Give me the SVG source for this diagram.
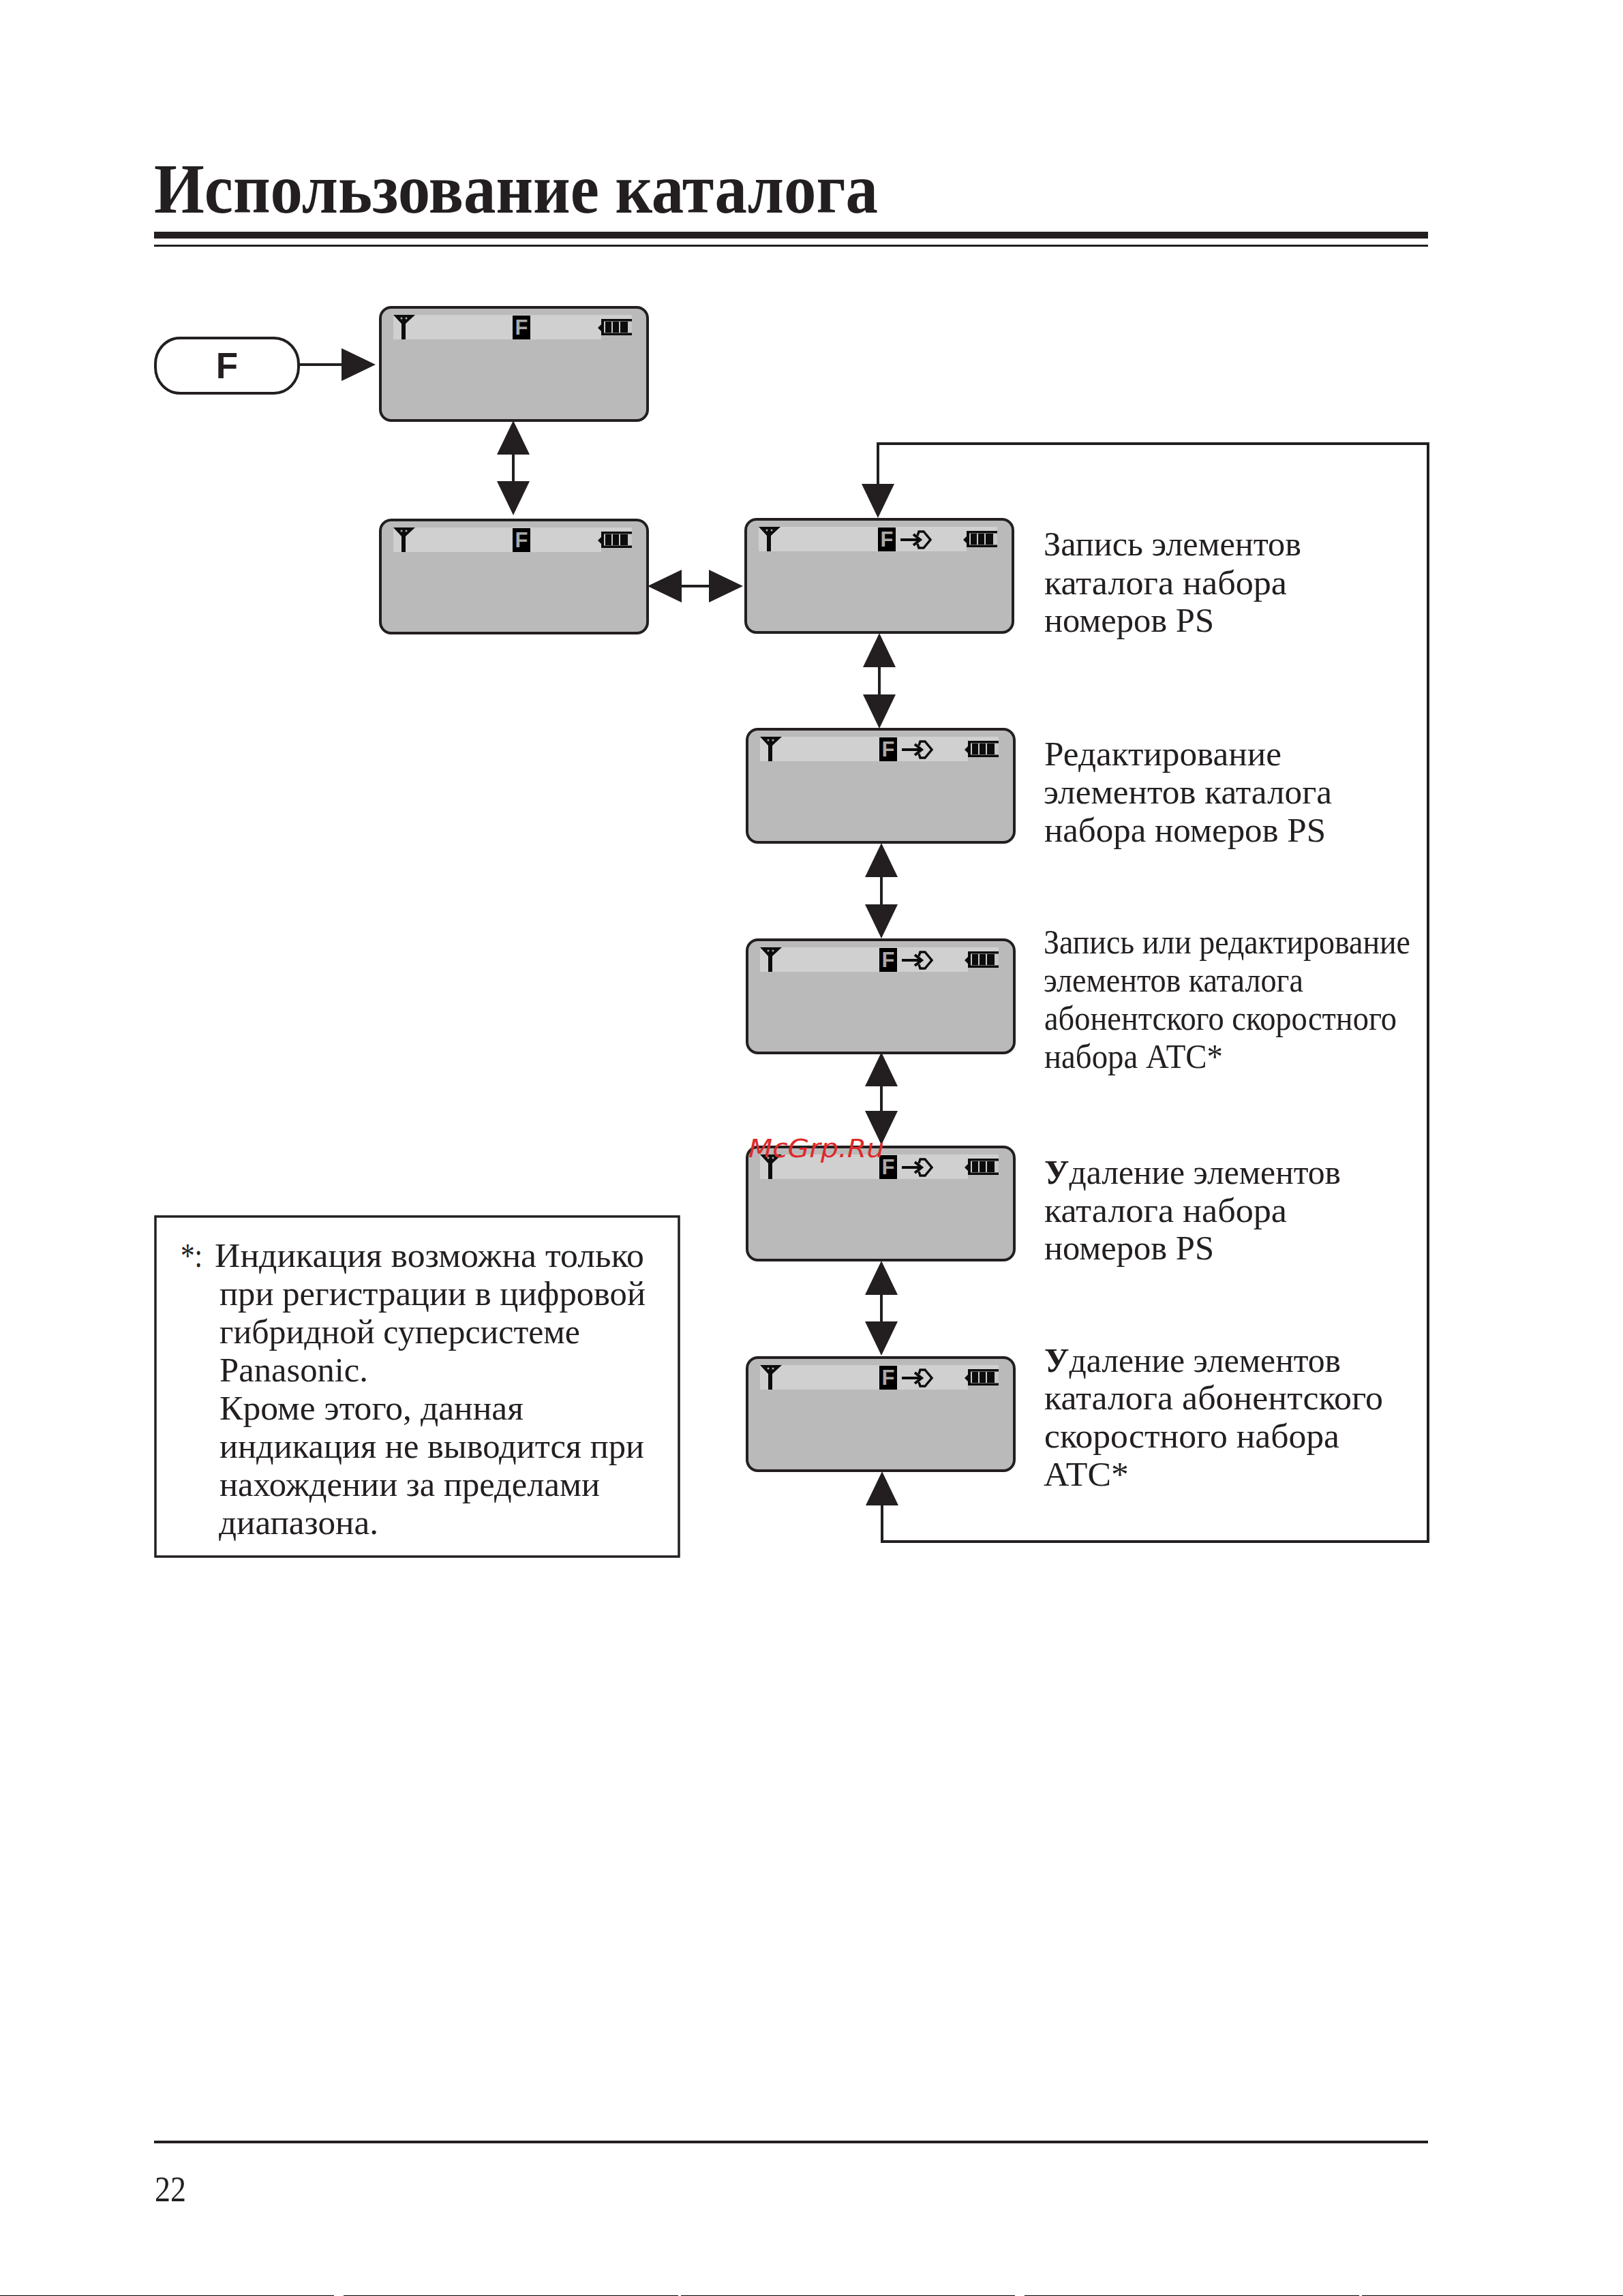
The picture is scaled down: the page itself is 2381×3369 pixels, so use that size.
<svg xmlns="http://www.w3.org/2000/svg" xmlns:xlink="http://www.w3.org/1999/xlink" width="2381" height="3369" viewBox="0 0 2381 3369">
<style>
text{font-family:"Liberation Serif","Times New Roman",serif;fill:#231f20}
.t{font-size:51px}
.title{font-size:104px;font-weight:bold}
.pn{font-size:52px}
.key{font-family:"Liberation Sans",Arial,sans-serif;font-weight:bold;font-size:53px}
.ff{font-family:"Liberation Sans",Arial,sans-serif;font-weight:bold;font-size:31px;fill:#a9a9a9}
.wm{font-family:"DejaVu Sans",sans-serif;font-style:oblique;font-size:38px;fill:#dd2a2a}
.scr{fill:#bababa;stroke:#231f20;stroke-width:4}
.band{fill:#d0d0d0}
.conn{fill:none;stroke:#231f20;stroke-width:4;marker-start:url(#ah);marker-end:url(#ah)}
.one{marker-start:none}
.rule{fill:#231f20}
</style>
<defs>
<marker id="ah" markerUnits="userSpaceOnUse" markerWidth="52" markerHeight="50" viewBox="0 -25 52 50" refX="0" refY="0" orient="auto-start-reverse"><path d="M0,-24L50,0L0,24Z" fill="#231f20"/></marker>
<g id="base">
<rect class="scr" x="2" y="2" width="392" height="166" rx="16"/>
<rect class="band" x="21" y="13" width="350" height="36"/>
<rect x="326" y="43" width="45" height="6" fill="#bababa"/>
<path d="M21,13H53L39,26V49H33V26Z" fill="#0c0c0c"/>
<circle cx="33" cy="18" r="1.5" fill="#b0b0b0"/><circle cx="40" cy="18" r="1.5" fill="#b0b0b0"/>
<rect x="196" y="14" width="26" height="35" fill="#000"/>
<text class="ff" x="209" y="42" text-anchor="middle">F</text>
<path d="M321,32L326,27V19H371V43H326V37Z" fill="#0c0c0c"/>
<rect x="330" y="22.500" width="41" height="17" fill="#c8c8c8"/>
<rect x="332" y="23" width="9" height="16" fill="#0c0c0c"/><rect x="343" y="23" width="9" height="16" fill="#0c0c0c"/><rect x="354" y="23" width="11" height="16" fill="#0c0c0c"/>
</g>
<g id="door">
<path d="M229,32H256" fill="none" stroke="#0c0c0c" stroke-width="4"/>
<path d="M248,24L258,32L248,40" fill="none" stroke="#0c0c0c" stroke-width="4"/>
<path d="M254,26L256,20H263L273,32L263,44H256L254,38" fill="none" stroke="#0c0c0c" stroke-width="3.5"/>
</g>
</defs>
<g id="page">
<text class="title" x="226" y="312" textLength="1062" lengthAdjust="spacingAndGlyphs">Использование каталога</text>
<rect class="rule" x="226" y="340" width="1869" height="10"/>
<rect class="rule" x="226" y="359" width="1869" height="3"/>
<rect class="rule" x="226" y="3141" width="1869" height="4"/>
<text class="pn" x="227" y="3230" textLength="46" lengthAdjust="spacingAndGlyphs">22</text>
<path d="M0,3368.5H2381" stroke="#000" stroke-width="1" stroke-dasharray="490 14 491 4"/>
</g>
<g id="connectors">
<path class="conn one" d="M439,535H501"/>
<path class="conn" d="M753,667V706"/>
<path class="conn" d="M1000,860H1040"/>
<path class="conn" d="M1290,979V1019"/>
<path class="conn" d="M1293,1287V1327"/>
<path class="conn" d="M1293,1594V1630"/>
<path class="conn" d="M1293,1900V1939"/>
<path class="conn" d="M1294,2209V2262H2095V651H1288V710"/>
</g>
<g id="key-f">
<rect x="228" y="496" width="210" height="81" rx="36" ry="38" fill="#fff" stroke="#231f20" stroke-width="4"/>
<text class="key" x="333" y="555" text-anchor="middle">F</text>
</g>
<g id="screen-1" transform="translate(556,449)"><use href="#base"/></g>
<g id="screen-2" transform="translate(556,761)"><use href="#base"/></g>
<g id="screen-3" transform="translate(1092,760)"><use href="#base"/><use href="#door"/></g>
<g id="screen-4" transform="translate(1094,1068)"><use href="#base"/><use href="#door"/></g>
<g id="screen-5" transform="translate(1094,1377)"><use href="#base"/><use href="#door"/></g>
<g id="screen-6" transform="translate(1094,1681)"><use href="#base"/><use href="#door"/></g>
<g id="screen-7" transform="translate(1094,1990)"><use href="#base"/><use href="#door"/></g>
<g id="label-3">
<text class="t" x="1531" y="815" textLength="378" lengthAdjust="spacingAndGlyphs">Запись элементов</text>
<text class="t" x="1532" y="872" textLength="356" lengthAdjust="spacingAndGlyphs">каталога набора</text>
<text class="t" x="1532" y="927" textLength="249" lengthAdjust="spacingAndGlyphs">номеров PS</text>
</g>
<g id="label-4">
<text class="t" x="1532" y="1123" textLength="348" lengthAdjust="spacingAndGlyphs">Редактирование</text>
<text class="t" x="1531" y="1179" textLength="423" lengthAdjust="spacingAndGlyphs">элементов каталога</text>
<text class="t" x="1532" y="1235" textLength="413" lengthAdjust="spacingAndGlyphs">набора номеров PS</text>
</g>
<g id="label-5">
<text class="t" x="1531" y="1399" textLength="538" lengthAdjust="spacingAndGlyphs">Запись или редактирование</text>
<text class="t" x="1531" y="1455" textLength="381" lengthAdjust="spacingAndGlyphs">элементов каталога</text>
<text class="t" x="1532" y="1511" textLength="517" lengthAdjust="spacingAndGlyphs">абонентского скоростного</text>
<text class="t" x="1532" y="1567" textLength="262" lengthAdjust="spacingAndGlyphs">набора АТС*</text>
</g>
<g id="label-6">
<text class="t" x="1532" y="1737" textLength="435" lengthAdjust="spacingAndGlyphs"><tspan font-weight="bold">У</tspan>даление элементов</text>
<text class="t" x="1532" y="1793" textLength="356" lengthAdjust="spacingAndGlyphs">каталога набора</text>
<text class="t" x="1532" y="1848" textLength="249" lengthAdjust="spacingAndGlyphs">номеров PS</text>
</g>
<g id="label-7">
<text class="t" x="1532" y="2013" textLength="435" lengthAdjust="spacingAndGlyphs"><tspan font-weight="bold">У</tspan>даление элементов</text>
<text class="t" x="1532" y="2068" textLength="497" lengthAdjust="spacingAndGlyphs">каталога абонентского</text>
<text class="t" x="1532" y="2124" textLength="433" lengthAdjust="spacingAndGlyphs">скоростного набора</text>
<text class="t" x="1531" y="2180" textLength="125" lengthAdjust="spacingAndGlyphs">АТС*</text>
</g>
<g id="note">
<rect x="228" y="1785" width="768" height="499" fill="#fff" stroke="#231f20" stroke-width="3.5"/>
<text class="t" x="265" y="1859" textLength="32" lengthAdjust="spacingAndGlyphs">*:</text>
<text class="t" x="315" y="1859" textLength="630" lengthAdjust="spacingAndGlyphs">Индикация возможна только</text>
<text class="t" x="322" y="1915" textLength="625" lengthAdjust="spacingAndGlyphs">при регистрации в цифровой</text>
<text class="t" x="322" y="1971" textLength="529" lengthAdjust="spacingAndGlyphs">гибридной суперсистеме</text>
<text class="t" x="322" y="2027" textLength="218" lengthAdjust="spacingAndGlyphs">Panasonic.</text>
<text class="t" x="322" y="2083" textLength="446" lengthAdjust="spacingAndGlyphs">Кроме этого, данная</text>
<text class="t" x="322" y="2139" textLength="623" lengthAdjust="spacingAndGlyphs">индикация не выводится при</text>
<text class="t" x="322" y="2195" textLength="558" lengthAdjust="spacingAndGlyphs">нахождении за пределами</text>
<text class="t" x="321" y="2251" textLength="234" lengthAdjust="spacingAndGlyphs">диапазона.</text>
</g>
<text class="wm" x="1098" y="1698" textLength="199" lengthAdjust="spacingAndGlyphs">McGrp.Ru</text>
</svg>
